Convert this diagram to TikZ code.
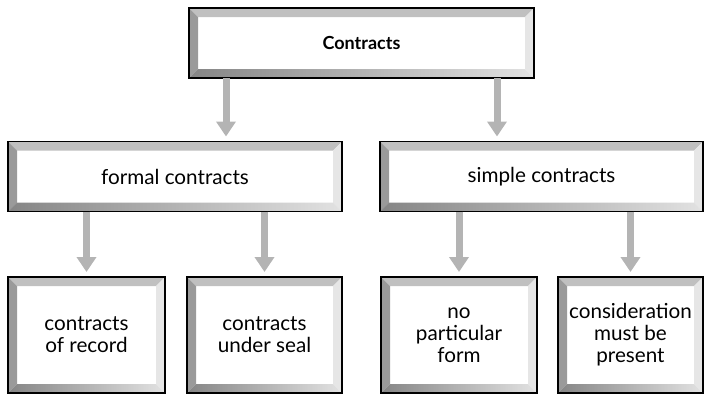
\documentclass[tikz,border=0pt]{standalone}
\usepackage{fontspec}
\setmainfont{Lato}
\usetikzlibrary{arrows.meta}
\definecolor{bevtop}{HTML}{C0C0C0}
\definecolor{bevleft}{HTML}{9A9A9A}
\definecolor{bevright}{HTML}{E6E6E6}
\definecolor{bevdark}{HTML}{858585}
\definecolor{bevlight}{HTML}{E2E2E2}
\definecolor{arrowgray}{HTML}{B4B4B4}
\newcommand{\bevw}{6.75pt}

\begin{document}
\begin{tikzpicture}[x=0.75pt,y=-0.75pt,
  box/.style={draw=black,line width=0.8pt,fill=white,inner sep=0pt,outer sep=0pt,
    align=center,font=\fontsize{15.5}{16.5}\selectfont,
    path picture={
      \fill[bevtop] (path picture bounding box.north west) -- (path picture bounding box.north east)
        -- ++(-\bevw,-\bevw) -- ([shift={(\bevw,-\bevw)}]path picture bounding box.north west) -- cycle;
      \fill[bevleft] (path picture bounding box.north west) -- ++(\bevw,-\bevw)
        -- ([shift={(\bevw,\bevw)}]path picture bounding box.south west) -- (path picture bounding box.south west) -- cycle;
      \fill[bevright] (path picture bounding box.north east) -- ++(-\bevw,-\bevw)
        -- ([shift={(-\bevw,\bevw)}]path picture bounding box.south east) -- (path picture bounding box.south east) -- cycle;
      \shade[left color=bevdark,right color=bevlight] (path picture bounding box.south west) -- ++(\bevw,\bevw)
        -- ([shift={(-\bevw,\bevw)}]path picture bounding box.south east) -- (path picture bounding box.south east) -- cycle;
    }},
  link/.style={draw=arrowgray,line width=5.25pt,-{Triangle[width=14.25pt,length=11.25pt]},shorten >=3.75pt}
]
\useasboundingbox (0,0) rectangle (704,394);

% boxes
\node[box,minimum width=258.75pt,minimum height=52.5pt,font=\fontsize{13.5}{16}\selectfont\bfseries] (contracts) at (361.5,43) {Contracts};
\node[box,minimum width=250.5pt,minimum height=52.5pt] (formal) at (175,176.5) {formal contracts};
\node[box,minimum width=242.25pt,minimum height=52.5pt] (simple) at (541.5,176.5) {simple contracts};
\node[box,minimum width=117.75pt,minimum height=87pt] (record) at (86.5,335) {contracts\\of record};
\node[box,minimum width=116.25pt,minimum height=87pt] (seal) at (264.5,335) {contracts\\under seal};
\node[box,minimum width=117pt,minimum height=87pt] (noform) at (459,335) {no\\particular\\form};
\node[box,minimum width=108.75pt,minimum height=87pt] (consid) at (630.5,335) {consideration\\must be\\present};

% arrows
\draw[link] ([xshift=27.75pt]contracts.south west) -- ([xshift=27.75pt]contracts.south west |- formal.north);
\draw[link] ([xshift=-27.75pt]contracts.south east) -- ([xshift=-27.75pt]contracts.south east |- simple.north);
\draw[link] (formal.south -| record.north) -- (record.north);
\draw[link] (formal.south -| seal.north) -- (seal.north);
\draw[link] (simple.south -| noform.north) -- (noform.north);
\draw[link] (simple.south -| consid.north) -- (consid.north);
\end{tikzpicture}
\end{document}
